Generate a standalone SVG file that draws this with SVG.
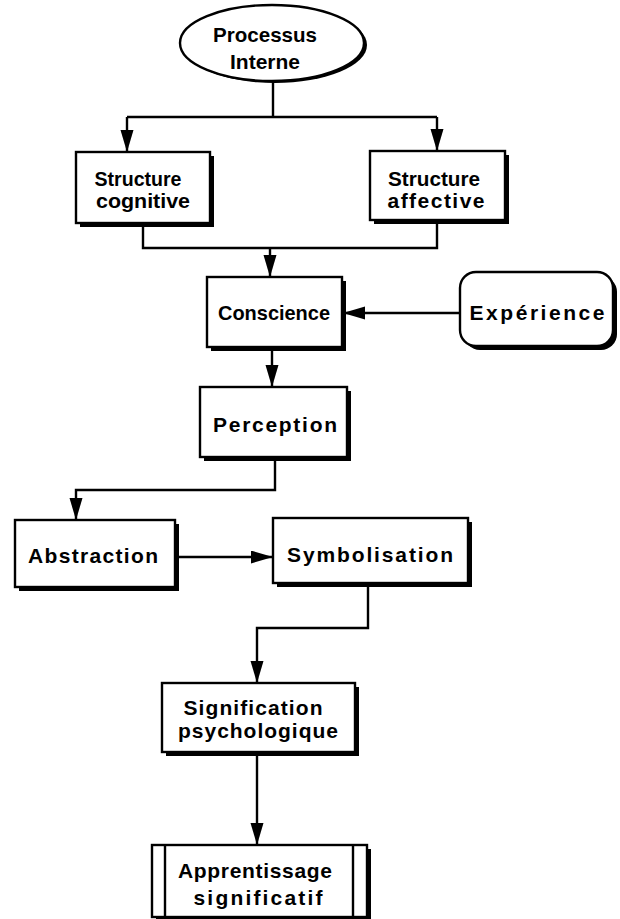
<svg xmlns="http://www.w3.org/2000/svg" width="620" height="919" viewBox="0 0 620 919">
<style>
.bx{fill:#fff;stroke:#000;stroke-width:2.4}
.sh{fill:#000}
.t{font-family:"Liberation Sans",Arial,sans-serif;font-weight:bold;font-size:21px;fill:#000;text-anchor:middle}
.c{fill:none;stroke:#000;stroke-width:2.4}
</style>
<defs>
<marker id="ah" markerUnits="userSpaceOnUse" markerWidth="24" markerHeight="14" refX="22" refY="6.5" orient="auto">
<path d="M0,0 L22,6.5 L0,13 z" fill="#000"/>
</marker>
</defs>
<rect width="620" height="919" fill="#fff"/>
<g id="connectors">
<path class="c" d="M273,82 V117 M127,117 H437"/>
<path class="c" d="M127,117 V152" marker-end="url(#ah)"/>
<path class="c" d="M437,117 V151" marker-end="url(#ah)"/>
<path class="c" d="M143,223 V248 H437 V220"/>
<path class="c" d="M270,248 V277" marker-end="url(#ah)"/>
<path class="c" d="M460,313 H343" marker-end="url(#ah)"/>
<path class="c" d="M272,347 V387" marker-end="url(#ah)"/>
<path class="c" d="M275,457 V490 H76 V520" marker-end="url(#ah)"/>
<path class="c" d="M175,557 H273" marker-end="url(#ah)"/>
<path class="c" d="M368,583 V628 H257 V683" marker-end="url(#ah)"/>
<path class="c" d="M257,752 V845" marker-end="url(#ah)"/>
</g>
<g id="processus">
<ellipse class="sh" cx="275" cy="45" rx="92" ry="38"/>
<ellipse class="bx" cx="272" cy="43" rx="92" ry="38"/>
<text class="t" x="265" y="42" textLength="104" lengthAdjust="spacingAndGlyphs">Processus</text>
<text class="t" x="265" y="69" textLength="70" lengthAdjust="spacing">Interne</text>
</g>
<g id="cognitive">
<rect class="sh" x="80" y="156" width="134" height="71"/>
<rect class="bx" x="76" y="152" width="134" height="71"/>
<text class="t" x="138" y="186" textLength="87" lengthAdjust="spacingAndGlyphs">Structure</text>
<text class="t" x="143" y="208" textLength="94" lengthAdjust="spacingAndGlyphs">cognitive</text>
</g>
<g id="affective">
<rect class="sh" x="374" y="155" width="135" height="69"/>
<rect class="bx" x="370" y="151" width="135" height="69"/>
<text class="t" x="434" y="186" textLength="92" lengthAdjust="spacingAndGlyphs">Structure</text>
<text class="t" x="436" y="208" textLength="97" lengthAdjust="spacing">affective</text>
</g>
<g id="conscience">
<rect class="sh" x="211" y="281" width="135" height="70"/>
<rect class="bx" x="207" y="277" width="135" height="70"/>
<text class="t" x="274" y="320" textLength="112" lengthAdjust="spacingAndGlyphs">Conscience</text>
</g>
<g id="experience">
<rect class="sh" x="464" y="276" width="153" height="74" rx="16"/>
<rect class="bx" x="460" y="272" width="153" height="74" rx="16"/>
<text class="t" x="537" y="320" textLength="135" lengthAdjust="spacing">Expérience</text>
</g>
<g id="perception">
<rect class="sh" x="204" y="391" width="147" height="70"/>
<rect class="bx" x="200" y="387" width="147" height="70"/>
<text class="t" x="275" y="432" textLength="124" lengthAdjust="spacing">Perception</text>
</g>
<g id="abstraction">
<rect class="sh" x="19" y="524" width="160" height="67"/>
<rect class="bx" x="15" y="520" width="160" height="67"/>
<text class="t" x="93" y="563" textLength="130" lengthAdjust="spacing">Abstraction</text>
</g>
<g id="symbolisation">
<rect class="sh" x="277" y="522" width="195" height="65"/>
<rect class="bx" x="273" y="518" width="195" height="65"/>
<text class="t" x="370" y="562" textLength="166" lengthAdjust="spacing">Symbolisation</text>
</g>
<g id="signification">
<rect class="sh" x="166" y="687" width="193" height="69"/>
<rect class="bx" x="162" y="683" width="193" height="69"/>
<text class="t" x="253" y="715" textLength="139" lengthAdjust="spacing">Signification</text>
<text class="t" x="258" y="738" textLength="160" lengthAdjust="spacing">psychologique</text>
</g>
<g id="apprentissage">
<rect class="sh" x="156" y="849" width="215" height="72"/>
<rect class="bx" x="152" y="845" width="215" height="72"/>
<path class="c" d="M165,845 V917 M353,845 V917"/>
<text class="t" x="255" y="878" textLength="154" lengthAdjust="spacing">Apprentissage</text>
<text class="t" x="258" y="905" textLength="129" lengthAdjust="spacing">significatif</text>
</g>
</svg>
